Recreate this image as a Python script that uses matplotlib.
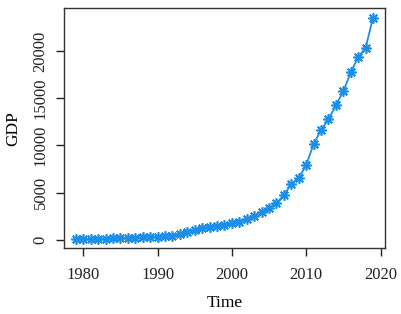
import numpy as np
import matplotlib
matplotlib.use("Agg")
import matplotlib.pyplot as plt

# GDP by year
years = list(range(1979, 2020))
gdp = [76, 85, 92, 102, 115, 137, 160, 182, 205, 245, 275, 300,
       350, 430, 580, 790, 1040, 1220, 1370, 1480, 1590, 1730,
       1910, 2190, 2510, 2930, 3360, 3890, 4740, 5900, 6570, 7920,
       10140, 11630, 12760, 14280, 15760, 17740, 19400, 20360, 23570]
xticks = [1980, 1990, 2000, 2010, 2020]
yticks = [0, 5000, 10000, 15000, 20000]

plt.rcParams['font.family'] = ['Liberation Serif', 'DejaVu Serif']

fig = plt.figure(figsize=(4.01, 3.14), dpi=100)
ax = fig.add_axes([0.1596, 0.2102, 0.8004, 0.7634])

ax.plot(years, gdp, color='#1C8EE6', linewidth=1.3,
        marker=(8, 2, 0), markersize=7.5, markeredgewidth=1.2,
        markeredgecolor='#1C8EE6')

ax.set_xlim(1977.4, 2020.6)
ax.set_ylim(-874, 24547)
ax.set_xticks(xticks)
ax.set_yticks(yticks)
ax.set_yticklabels([str(t) for t in yticks], rotation=90, va='center')
ax.tick_params(direction='out', length=6, width=1, labelsize=12,
               colors='#222222', pad=8)
ax.tick_params(axis='y', pad=5)
for s in ax.spines.values():
    s.set_color('#333333')
    s.set_linewidth(1)

ax.set_xlabel('Time', fontsize=12.5, labelpad=8)
ax.set_ylabel('GDP', fontsize=12.5, labelpad=8)

fig.savefig('out.png', dpi=100, facecolor='white')
